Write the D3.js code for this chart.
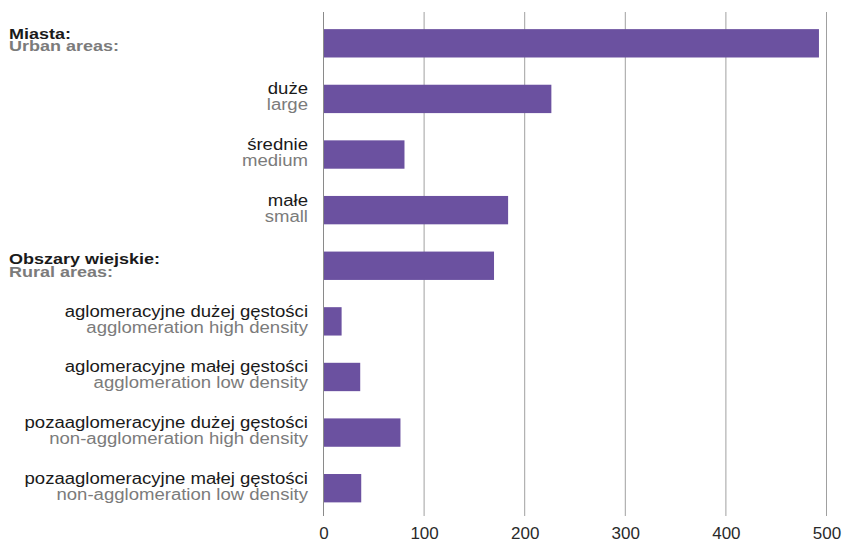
<!DOCTYPE html>
<html>
<head>
<meta charset="utf-8">
<script src="https://cdn.jsdelivr.net/npm/d3@7"></script>
<style>
  body { margin: 0; background: #fff; }
  text { font-family: "Liberation Sans", Arial, sans-serif; }
</style>
</head>
<body>
<div id="chart"></div>
<script>
// data
const labelsPl = ["Miasta:", "duże", "średnie", "małe", "Obszary wiejskie:",
  "aglomeracyjne dużej gęstości", "aglomeracyjne małej gęstości",
  "pozaaglomeracyjne dużej gęstości", "pozaaglomeracyjne małej gęstości"];
const labelsEn = ["Urban areas:", "large", "medium", "small", "Rural areas:",
  "agglomeration high density", "agglomeration low density",
  "non-agglomeration high density", "non-agglomeration low density"];
const isGroup = [true, false, false, false, true, false, false, false, false];
const values = [493, 227, 81, 184, 170, 18.5, 37, 77, 38];
const ticks = [0, 100, 200, 300, 400, 500];

const width = 845, height = 541;
const margin = {top: 15.5, right: 19, bottom: 25, left: 323};

const svg = d3.select("#chart").append("svg")
  .attr("width", width)
  .attr("height", height);

const x = d3.scaleLinear()
  .domain([0, 500])
  .range([margin.left, width - margin.right]);

const y = d3.scaleBand()
  .domain(d3.range(values.length))
  .range([margin.top, height - margin.bottom])
  .paddingInner(0.49)
  .paddingOuter(0.245);

const axisY = height - margin.bottom;

// gridlines
svg.append("g")
  .selectAll("line")
  .data(ticks)
  .join("line")
  .attr("x1", d => x(d) + 0.5)
  .attr("x2", d => x(d) + 0.5)
  .attr("y1", 12)
  .attr("y2", axisY)
  .attr("stroke", d => d === 0 ? "#8a8a8a" : "#a0a0a0")
  .attr("stroke-width", 1);

// bars
svg.append("g")
  .selectAll("rect")
  .data(values)
  .join("rect")
  .attr("x", x(0) + 1)
  .attr("y", (d, i) => y(i))
  .attr("width", d => x(d) - x(0) - 1)
  .attr("height", y.bandwidth())
  .attr("fill", "#6b51a0");

// label line offsets from bar middle: [first line, second line]
function lineOffsets(i) {
  if (i === 0) return [-4.5, 8];
  if (i === 4) return [-2, 11.5];
  return [-4.5, 11.5];
}

// category labels (text in the picture is a bit wide, so stretch it)
const lab = svg.append("g")
  .selectAll("g")
  .data(values.map((d, i) => i))
  .join("g")
  .attr("transform", i => {
    const tx = isGroup[i] ? 9 : 308;
    const sx = isGroup[i] ? 1.2 : 1.16;
    return `translate(${tx}, ${y(i) + y.bandwidth() / 2}) scale(${sx}, 1)`;
  });

lab.append("text")
  .attr("x", 0)
  .attr("y", i => lineOffsets(i)[0])
  .attr("text-anchor", i => isGroup[i] ? "start" : "end")
  .attr("font-size", i => isGroup[i] ? "15px" : "16px")
  .attr("font-weight", i => isGroup[i] ? "bold" : "normal")
  .attr("fill", "#1a1a1a")
  .text(i => labelsPl[i]);

lab.append("text")
  .attr("x", 0)
  .attr("y", i => lineOffsets(i)[1])
  .attr("text-anchor", i => isGroup[i] ? "start" : "end")
  .attr("font-size", i => isGroup[i] ? "15px" : "16px")
  .attr("font-weight", i => isGroup[i] ? "bold" : "normal")
  .attr("fill", "#7b7b7b")
  .text(i => labelsEn[i]);

// x axis
const xAxis = d3.axisBottom(x)
  .tickValues(ticks)
  .tickSize(0)
  .tickPadding(0);

const gx = svg.append("g")
  .attr("transform", `translate(0.5, ${axisY})`)
  .call(xAxis);

gx.select(".domain").remove();
gx.selectAll("text")
  .attr("y", 23)
  .attr("dy", 0)
  .attr("font-size", "17px")
  .attr("font-family", "Liberation Sans, Arial, sans-serif")
  .attr("fill", "#2a2a2a");
</script>
</body>
</html>
